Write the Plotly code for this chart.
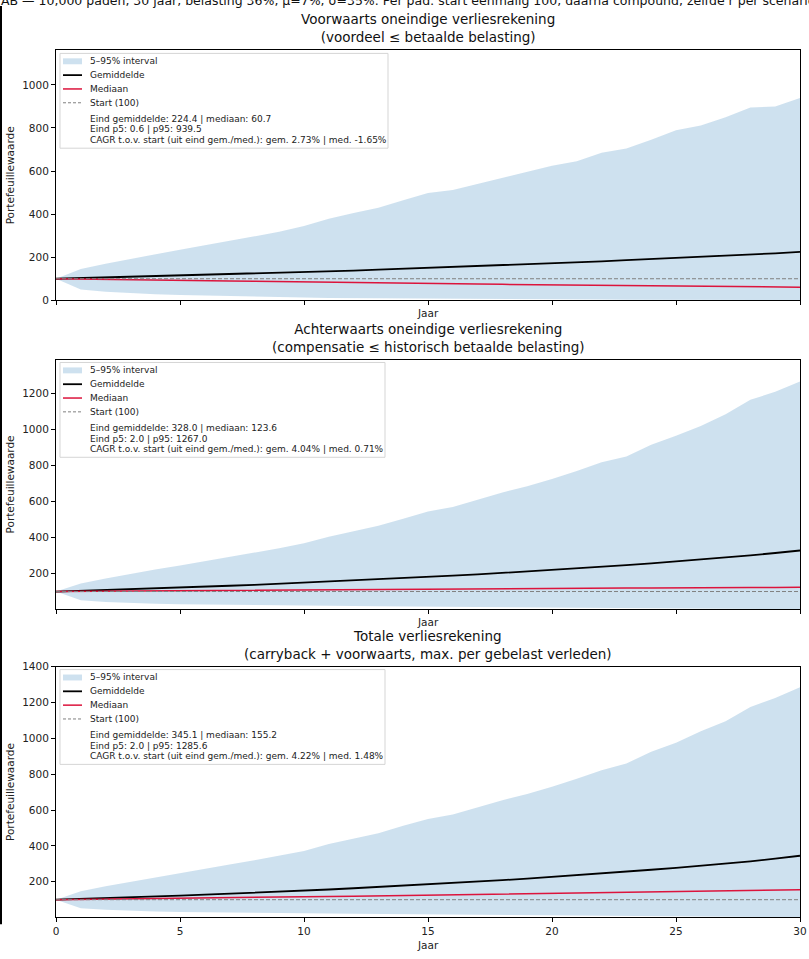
import plotly.graph_objects as go
from plotly.subplots import make_subplots

YEARS = list(range(0, 31))
START = 100

# voorwaarts oneindige verliesrekening
FWD_P5 = [100, 50, 40, 33, 28, 24, 21, 18, 16, 14, 12.5, 11, 10, 9, 8, 7.3, 6.5, 5.8, 5.2, 4.6,
          4.1, 3.6, 3.2, 2.8, 2.4, 2.1, 1.8, 1.5, 1.2, 0.9, 0.6]
FWD_P95 = [100, 145, 170, 192, 215, 235, 255, 275, 295, 318, 345, 378, 405, 430, 465, 498, 512,
           540, 570, 598, 625, 645, 685, 705, 745, 790, 812, 850, 895, 900, 939.5]
FWD_MEAN = [100, 103, 105, 108, 111, 114, 117, 121, 124, 127, 131, 135, 138, 142, 146, 150, 154,
            158, 163, 167, 172, 176, 181, 186, 191, 196, 201, 207, 212, 218, 224.4]
FWD_MED = [100, 99, 97, 96, 94, 93, 91, 90, 88, 87, 85, 84, 83, 81, 80, 78, 77, 76, 74, 73, 72,
           71, 69, 68, 67, 66, 65, 64, 63, 62, 60.7]

# achterwaarts oneindige verliesrekening
BWD_P5 = [100, 52, 42, 36, 32, 29, 27, 25, 23, 22, 21, 20, 19, 18, 17, 16, 15, 14.5, 14, 13, 12,
          11, 10, 9.5, 9, 8, 7, 6, 4.5, 3, 2.0]
BWD_P95 = [100, 145, 172, 198, 222, 245, 268, 292, 315, 340, 368, 405, 435, 465, 505, 545, 570,
           610, 650, 685, 725, 770, 818, 850, 915, 965, 1020, 1085, 1165, 1210, 1267.0]
BWD_MEAN = [100, 104, 108, 113, 117, 122, 127, 132, 137, 143, 148, 154, 160, 167, 173, 180, 188,
            195, 203, 211, 220, 228, 238, 247, 257, 267, 278, 289, 301, 314, 328.0]
BWD_MED = [100, 101, 102, 103, 104, 105, 106, 107, 108, 109, 110, 110, 111, 112, 113, 113, 114,
           115, 115, 116, 117, 117, 118, 119, 119, 121, 120, 121, 123, 122, 123.6]

# totale verliesrekening
TOT_P5 = [100, 53, 44, 38, 34, 31, 29, 27, 26, 25, 24, 23, 22, 21, 20, 19, 18, 17, 16, 15, 14, 13,
          12, 11, 10, 9, 8, 6.5, 5, 3.5, 2.0]
TOT_P95 = [100, 147, 175, 200, 225, 248, 272, 296, 320, 345, 372, 410, 440, 470, 512, 550, 575,
           615, 655, 690, 730, 775, 822, 860, 925, 975, 1040, 1095, 1175, 1225, 1285.6]
TOT_MEAN = [100, 104, 109, 113, 118, 123, 128, 133, 139, 145, 151, 157, 164, 171, 178, 185, 193,
            201, 209, 218, 227, 236, 246, 256, 267, 278, 289, 301, 314, 329, 345.1]
TOT_MED = [100, 102, 103, 105, 106, 108, 109, 111, 113, 114, 116, 118, 119, 121, 123, 125, 127,
           129, 131, 132, 134, 136, 138, 141, 143, 145, 147, 149, 151, 153, 155.2]

TITLES = [
    "Voorwaarts oneindige verliesrekening<br>(voordeel ≤ betaalde belasting)",
    "Achterwaarts oneindige verliesrekening<br>(compensatie ≤ historisch betaalde belasting)",
    "Totale verliesrekening<br>(carryback + voorwaarts, max. per gebelast verleden)",
]
LEGEND_NAMES = ["5–95% interval", "Gemiddelde", "Mediaan", "Start (100)"]
INFO = [
    ["Eind gemiddelde: 224.4 | mediaan: 60.7", "Eind p5: 0.6 | p95: 939.5",
     "CAGR t.o.v. start (uit eind gem./med.): gem. 2.73% | med. -1.65%"],
    ["Eind gemiddelde: 328.0 | mediaan: 123.6", "Eind p5: 2.0 | p95: 1267.0",
     "CAGR t.o.v. start (uit eind gem./med.): gem. 4.04% | med. 0.71%"],
    ["Eind gemiddelde: 345.1 | mediaan: 155.2", "Eind p5: 2.0 | p95: 1285.6",
     "CAGR t.o.v. start (uit eind gem./med.): gem. 4.22% | med. 1.48%"],
]
SUPTITLE = ("AB — 10,000 paden, 30 jaar, belasting 36%, μ=7%, σ=35%. Per pad: start eenmalig 100, "
            "daarna compound, zelfde r per scenario")

panels = [
    (FWD_P5, FWD_P95, FWD_MEAN, FWD_MED, [0, 1160]),
    (BWD_P5, BWD_P95, BWD_MEAN, BWD_MED, [1, 1389]),
    (TOT_P5, TOT_P95, TOT_MEAN, TOT_MED, [1, 1400]),
]

W, H = 809, 959
ML, MR = 56, 9
PW = W - ML - MR
# plot area boxes in pixels (top, bottom) and legend box right edge
boxes = [(45, 298), (358, 611), (669, 923)]
legend_right = [388, 385, 385]

FILL = "rgba(31,119,180,0.22)"
MEDIAN_RED = "#DC143C"

fig = make_subplots(rows=3, cols=1, shared_xaxes=True)


def dx(px):
    return (px - ML) / PW


def draw_legend(i, xa, ya):
    # matplotlib-like legend box, drawn by hand so the row spacing matches
    top, bot = boxes[i]

    def dy(off):
        return 1 - off / (bot - top)

    ref = dict(xref=f"{xa} domain", yref=f"{ya} domain")
    fig.add_shape(type="rect", x0=dx(60), x1=dx(legend_right[i]), y0=dy(99), y1=dy(3),
                  fillcolor="rgba(255,255,255,0.8)", line=dict(color="#d5d5d5", width=1), **ref)
    fig.add_shape(type="rect", x0=dx(63), x1=dx(82), y0=dy(14), y1=dy(8), fillcolor=FILL,
                  line=dict(width=0), **ref)
    fig.add_shape(type="line", x0=dx(63), x1=dx(82), y0=dy(25), y1=dy(25),
                  line=dict(color="black", width=1.8), **ref)
    fig.add_shape(type="line", x0=dx(63), x1=dx(82), y0=dy(39), y1=dy(39),
                  line=dict(color=MEDIAN_RED, width=1.5), **ref)
    fig.add_shape(type="line", x0=dx(63), x1=dx(82), y0=dy(53), y1=dy(53),
                  line=dict(color="gray", width=1, dash="3px,2px"), **ref)
    rows = LEGEND_NAMES + INFO[i]
    offs = [11, 25, 39, 53, 69, 80, 91]
    for txt, off in zip(rows, offs):
        fig.add_annotation(text=txt, x=dx(88), y=dy(off), xanchor="left", yanchor="middle",
                           showarrow=False,
                           font=dict(family="DejaVu Sans", size=9, color="#222"), **ref)


for i, (p5, p95, mean, med, yr) in enumerate(panels):
    row = i + 1
    fig.add_trace(go.Scatter(x=YEARS, y=p5, mode="lines", line=dict(width=0),
                             name="p5", hoverinfo="skip"), row=row, col=1)
    fig.add_trace(go.Scatter(x=YEARS, y=p95, mode="lines", line=dict(width=0),
                             fill="tonexty", fillcolor=FILL, name=LEGEND_NAMES[0]), row=row, col=1)
    fig.add_trace(go.Scatter(x=YEARS, y=mean, mode="lines", line=dict(color="black", width=1.8),
                             name=LEGEND_NAMES[1]), row=row, col=1)
    fig.add_trace(go.Scatter(x=YEARS, y=med, mode="lines", line=dict(color=MEDIAN_RED, width=1.5),
                             name=LEGEND_NAMES[2]), row=row, col=1)
    fig.add_trace(go.Scatter(x=[YEARS[0], YEARS[-1]], y=[START, START], mode="lines",
                             line=dict(color="gray", width=1, dash="4px,2px"),
                             name=LEGEND_NAMES[3]), row=row, col=1)

    top, bot = boxes[i]
    fig.update_yaxes(domain=[1 - bot / H, 1 - top / H], range=yr, dtick=200, row=row, col=1)
    fig.update_xaxes(range=[0, 30], dtick=5, row=row, col=1, showticklabels=(row == 3))

    xa = "x" if i == 0 else f"x{i + 1}"
    ya = "y" if i == 0 else f"y{i + 1}"
    fig.add_annotation(text=TITLES[i], xref=f"{xa} domain", yref=f"{ya} domain", x=0.5, y=1,
                       yanchor="bottom", yshift=3, showarrow=False,
                       font=dict(family="DejaVu Sans", size=13.5, color="#111"))
    fig.add_annotation(text="Jaar", xref=f"{xa} domain", yref=f"{ya} domain", x=0.5, y=0,
                       yanchor="middle", yshift=(-28 if row == 3 else -13), showarrow=False,
                       font=dict(family="DejaVu Sans", size=10.5, color="#222"))
    draw_legend(i, xa, ya)

fig.update_xaxes(showline=True, linecolor="black", linewidth=1, mirror=True, ticks="outside",
                 ticklen=4, tickcolor="black", showgrid=False, zeroline=False,
                 tickfont=dict(family="DejaVu Sans", size=10.5, color="#222"))
fig.update_yaxes(showline=True, linecolor="black", linewidth=1, mirror=True, ticks="outside",
                 ticklen=4, tickcolor="black", showgrid=False, zeroline=False,
                 title=dict(text="Portefeuillewaarde", standoff=5,
                            font=dict(family="DejaVu Sans", size=10.5, color="#222")),
                 tickfont=dict(family="DejaVu Sans", size=10.5, color="#222"))

# suptitle, half cut off at the top edge like in the screenshot
fig.add_annotation(text=SUPTITLE, xref="paper", yref="paper", x=dx(-1), y=1,
                   yanchor="middle", xanchor="left", yshift=6, showarrow=False,
                   font=dict(family="DejaVu Sans", size=12.5, color="#111"))
# black edge on the left of the screenshot
fig.add_shape(type="line", xref="paper", yref="paper", x0=dx(1), x1=dx(1), y0=1 - 930 / H, y1=1,
              line=dict(color="black", width=2))

fig.update_layout(width=W, height=H, margin=dict(l=ML, r=MR, t=0, b=0), showlegend=False,
                  plot_bgcolor="white", paper_bgcolor="white",
                  font=dict(family="DejaVu Sans", color="#222"))

fig.write_html("out.html", config={"displayModeBar": False},
               post_script="document.body.style.margin='0';"
                           "document.body.style.overflow='hidden';"
                           "document.documentElement.style.overflow='hidden';")
